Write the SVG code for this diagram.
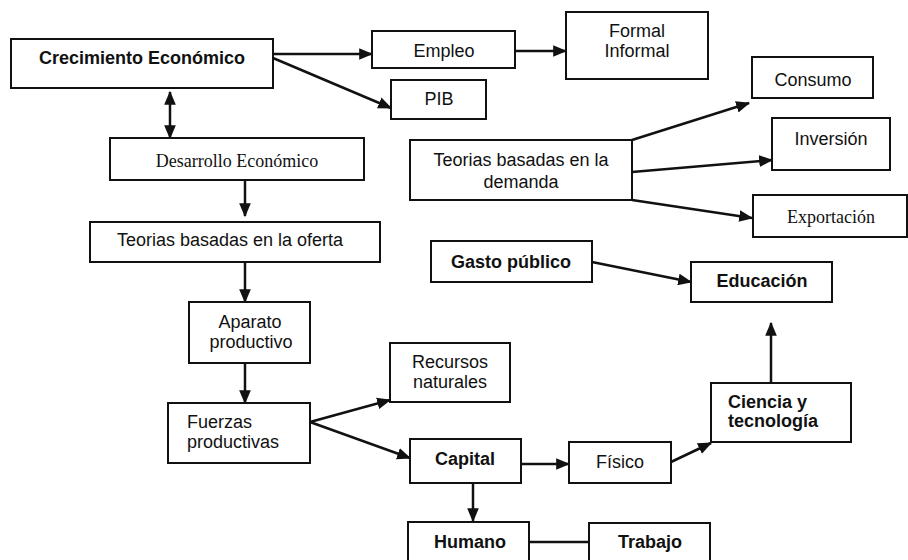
<svg xmlns="http://www.w3.org/2000/svg" width="908" height="560" viewBox="0 0 908 560">
<style>
.box{fill:#fff;stroke:#111;stroke-width:2}
.t{font-family:"Liberation Sans",Arial,sans-serif;font-size:18px;fill:#111;text-anchor:middle}
.b{font-weight:bold}
.l{text-anchor:start}
.s{font-family:"Liberation Serif","Times New Roman",serif}
.c{stroke:#111;stroke-width:2.5;fill:none}
.a{marker-end:url(#ah)}
</style>
<defs>
<marker id="ah" viewBox="0 0 12 10" refX="11" refY="5" markerWidth="14" markerHeight="12" markerUnits="userSpaceOnUse" orient="auto-start-reverse">
<path d="M0,0 L12,5 L0,10 z" fill="#111"/>
</marker>
</defs>
<rect width="908" height="560" fill="#fff"/>
<g id="connectors">
<line class="c a" x1="273" y1="54" x2="372" y2="54"/>
<line class="c a" x1="515" y1="51" x2="566" y2="51"/>
<line class="c a" x1="273" y1="58" x2="391" y2="108"/>
<line class="c a" x1="170" y1="92" x2="170" y2="138" marker-start="url(#ah)"/>
<line class="c a" x1="245" y1="180" x2="245" y2="216"/>
<line class="c a" x1="245" y1="262" x2="245" y2="302"/>
<line class="c a" x1="245" y1="363" x2="245" y2="403"/>
<line class="c a" x1="310" y1="422" x2="390" y2="400"/>
<line class="c a" x1="310" y1="422" x2="410" y2="458"/>
<line class="c a" x1="522" y1="464" x2="569" y2="464"/>
<line class="c a" x1="473" y1="483" x2="473" y2="521"/>
<line class="c" x1="529" y1="542" x2="589" y2="542"/>
<line class="c a" x1="671" y1="462" x2="711" y2="443"/>
<line class="c a" x1="771" y1="383" x2="771" y2="323"/>
<line class="c a" x1="592" y1="262" x2="691" y2="282"/>
<line class="c a" x1="632" y1="140" x2="749" y2="103"/>
<line class="c a" x1="632" y1="172" x2="772" y2="160"/>
<line class="c a" x1="632" y1="200" x2="752" y2="218"/>
</g>
<g id="crecimiento"><rect class="box" x="11" y="39" width="262" height="49"/><text class="t b" x="142" y="64">Crecimiento Económico</text></g>
<g id="empleo"><rect class="box" x="372" y="31" width="143" height="37"/><text class="t" x="444" y="57">Empleo</text></g>
<g id="formal"><rect class="box" x="566" y="12" width="142" height="67"/><text class="t" x="637" y="37">Formal</text><text class="t" x="637" y="57">Informal</text></g>
<g id="pib"><rect class="box" x="391" y="80" width="95" height="39"/><text class="t" x="439" y="105">PIB</text></g>
<g id="desarrollo"><rect class="box" x="110" y="138" width="254" height="42"/><text class="t s" x="237" y="167">Desarrollo Económico</text></g>
<g id="oferta"><rect class="box" x="90" y="222" width="290" height="40"/><text class="t" x="230" y="246">Teorias basadas en la oferta</text></g>
<g id="aparato"><rect class="box" x="189" y="302" width="121" height="61"/><text class="t" x="250" y="328">Aparato</text><text class="t" x="251" y="348">productivo</text></g>
<g id="fuerzas"><rect class="box" x="168" y="403" width="142" height="60"/><text class="t l" x="187" y="428">Fuerzas</text><text class="t l" x="187" y="448">productivas</text></g>
<g id="recursos"><rect class="box" x="390" y="343" width="120" height="59"/><text class="t" x="450" y="368">Recursos</text><text class="t" x="450" y="388">naturales</text></g>
<g id="capital"><rect class="box" x="410" y="439" width="111" height="44"/><text class="t b" x="465" y="465">Capital</text></g>
<g id="humano"><rect class="box" x="408" y="522" width="121" height="50"/><text class="t b" x="470" y="548">Humano</text></g>
<g id="trabajo"><rect class="box" x="589" y="523" width="121" height="50"/><text class="t b" x="650" y="548">Trabajo</text></g>
<g id="fisico"><rect class="box" x="569" y="442" width="102" height="41"/><text class="t" x="620" y="468">Físico</text></g>
<g id="ciencia"><rect class="box" x="711" y="383" width="140" height="59"/><text class="t b l" x="728" y="408">Ciencia y</text><text class="t b l" x="728" y="427">tecnología</text></g>
<g id="educacion"><rect class="box" x="691" y="262" width="141" height="40"/><text class="t b" x="762" y="287">Educación</text></g>
<g id="gasto"><rect class="box" x="431" y="241" width="161" height="41"/><text class="t b" x="511" y="268">Gasto público</text></g>
<g id="demanda"><rect class="box" x="410" y="140" width="222" height="60"/><text class="t" x="521" y="166">Teorias basadas en la</text><text class="t" x="521" y="188">demanda</text></g>
<g id="consumo"><rect class="box" x="752" y="57" width="121" height="41"/><text class="t" x="813" y="86">Consumo</text></g>
<g id="inversion"><rect class="box" x="772" y="118" width="118" height="52"/><text class="t" x="831" y="145">Inversión</text></g>
<g id="exportacion"><rect class="box" x="753" y="195" width="154" height="42"/><text class="t s" x="831" y="223">Exportación</text></g>
</svg>
